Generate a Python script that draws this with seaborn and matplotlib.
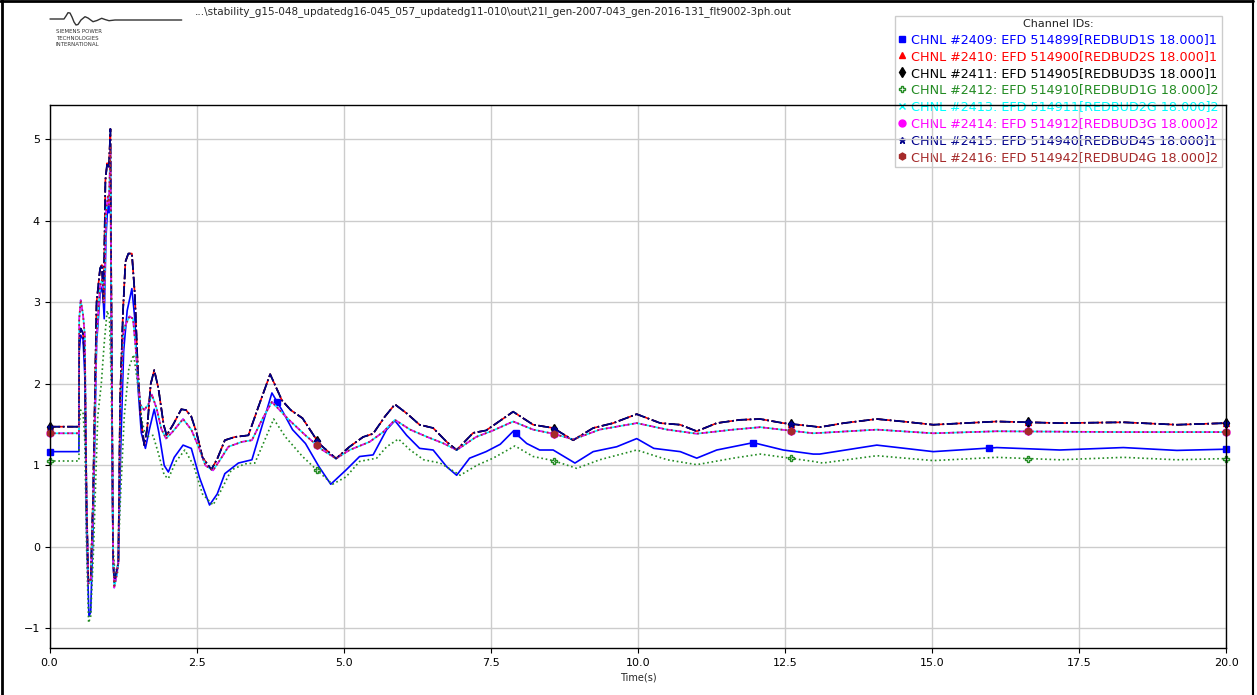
import numpy as np
import matplotlib
matplotlib.use('Agg')
import matplotlib.pyplot as plt
import seaborn as sns
from matplotlib.lines import Line2D

# %%
# curves (time in s, EFD in pu)
# the "S" units 2S/3S/4S sit on top of each other, same for 2G/3G/4G
top_t = [0, 0.5, 0.505, 0.53, 0.57, 0.6, 0.63, 0.66, 0.7, 0.74, 0.8, 0.86, 0.89, 0.92,
         0.95, 0.98, 1.01, 1.035, 1.05, 1.08, 1.1, 1.14, 1.17, 1.2, 1.25, 1.29, 1.34,
         1.4, 1.45, 1.5, 1.55, 1.61, 1.66, 1.72, 1.78, 1.85, 1.94, 1.99, 2.1, 2.24,
         2.32, 2.41, 2.5, 2.6, 2.75, 2.85, 2.98, 3.15, 3.38, 3.55, 3.75, 3.95, 4.1,
         4.3, 4.58, 4.87, 5.1, 5.33, 5.5, 5.7, 5.87, 6.07, 6.29, 6.52, 6.75, 6.92,
         7.2, 7.42, 7.66, 7.88, 8.22, 8.56, 8.9, 9.24, 9.58, 9.98, 10.38, 10.72, 11.0,
         11.34, 11.73, 12.08, 12.47, 12.98, 13.09, 13.5, 14.06, 14.5, 15.02, 16.1,
         17.17, 18.25, 19.16, 20.0]
top_v = [1.476, 1.476, 2.55, 2.68, 2.62, 2.3, 0.5, -0.43, -0.4, 0.6, 3.0, 3.42, 3.46, 3.0,
         4.5, 4.71, 4.65, 5.13, 3.2, -0.1, -0.43, -0.3, -0.2, 1.8, 2.9, 3.5, 3.6,
         3.6, 3.1, 2.2, 1.6, 1.25, 1.45, 2.0, 2.17, 1.95, 1.5, 1.37, 1.5, 1.69,
         1.68, 1.6, 1.4, 1.1, 0.95, 1.08, 1.31, 1.35, 1.37, 1.72, 2.12, 1.8, 1.68,
         1.58, 1.27, 1.085, 1.23, 1.35, 1.39, 1.6, 1.75, 1.64, 1.5, 1.46, 1.29, 1.19,
         1.4, 1.43, 1.55, 1.66, 1.5, 1.46, 1.31, 1.46, 1.52, 1.63, 1.52, 1.5, 1.42,
         1.52, 1.56, 1.57, 1.52, 1.48, 1.47, 1.52, 1.57, 1.54, 1.5, 1.54,
         1.52, 1.53, 1.5, 1.52]

mid_t = [0, 0.5, 0.505, 0.53, 0.57, 0.6, 0.63, 0.66, 0.7, 0.74, 0.8, 0.86, 0.9, 0.93,
         0.96, 0.99, 1.01, 1.035, 1.05, 1.08, 1.1, 1.14, 1.17, 1.2, 1.25, 1.29, 1.36,
         1.42, 1.47, 1.54, 1.61, 1.68, 1.74, 1.82, 1.9, 1.98, 2.1, 2.27, 2.41, 2.55,
         2.65, 2.78, 2.9, 3.04, 3.27, 3.44, 3.61, 3.78, 4.07, 4.35, 4.64, 4.87, 5.1,
         5.44, 5.67, 5.87, 6.13, 6.42, 6.7, 6.92, 7.25, 7.54, 7.88, 8.22, 8.56, 8.9,
         9.35, 9.98, 10.5, 11.0, 11.62, 12.08, 12.98, 14.06, 15.02, 16.1, 18.25, 20.0]
mid_v = [1.395, 1.395, 2.8, 3.03, 2.85, 2.6, 0.6, -0.45, -0.42, 0.5, 2.6, 3.2, 3.3, 3.0,
         4.1, 4.3, 4.2, 4.9, 3.0, -0.1, -0.5, -0.35, -0.2, 1.6, 2.6, 2.72, 2.83,
         2.8, 2.4, 1.75, 1.68, 1.75, 1.87, 1.7, 1.45, 1.33, 1.42, 1.57, 1.44, 1.2,
         1.0, 0.94, 1.07, 1.23, 1.29, 1.31, 1.56, 1.78, 1.56, 1.37, 1.19, 1.085, 1.19,
         1.29, 1.41, 1.56, 1.44, 1.35, 1.27, 1.19, 1.35, 1.43, 1.54, 1.44, 1.39, 1.32,
         1.44, 1.52, 1.44, 1.39, 1.44, 1.47, 1.395, 1.44, 1.395, 1.42, 1.41, 1.41]

blue_t = [0, 0.5, 0.505, 0.53, 0.57, 0.6, 0.63, 0.67, 0.7, 0.74, 0.8, 0.86, 0.9, 0.93,
          0.96, 0.99, 1.01, 1.035, 1.05, 1.08, 1.11, 1.14, 1.17, 1.21, 1.26, 1.32, 1.4,
          1.45, 1.5, 1.56, 1.63, 1.7, 1.78, 1.86, 1.95, 2.02, 2.12, 2.27, 2.41, 2.55,
          2.72, 2.85, 2.98, 3.21, 3.44, 3.61, 3.78, 3.95, 4.13, 4.35, 4.58, 4.78, 5.04,
          5.27, 5.5, 5.73, 5.87, 6.07, 6.29, 6.52, 6.75, 6.92, 7.14, 7.42, 7.66,
          7.88, 8.11, 8.33, 8.56, 8.93, 9.24, 9.64, 9.98, 10.27, 10.72, 11.0, 11.34,
          11.96, 12.47, 12.98, 13.09, 14.06, 15.02, 16.1, 17.17, 18.25, 19.16, 20.0]
blue_v = [1.17, 1.17, 2.4, 2.6, 2.55, 2.1, 0.2, -0.85, -0.8, 0.2, 2.5, 3.1, 3.2, 2.8,
          3.8, 4.2, 4.1, 4.6, 2.8, -0.2, -0.45, -0.35, -0.15, 1.2, 2.4, 2.9, 3.17,
          2.8, 2.0, 1.4, 1.21, 1.45, 1.69, 1.4, 1.0, 0.92, 1.1, 1.25, 1.21, 0.85,
          0.515, 0.65, 0.9, 1.03, 1.07, 1.48, 1.89, 1.68, 1.44, 1.27, 0.985, 0.77, 0.945,
          1.11, 1.13, 1.44, 1.55, 1.37, 1.21, 1.19, 0.985, 0.88, 1.09, 1.17, 1.26,
          1.42, 1.27, 1.19, 1.19, 1.03, 1.17, 1.23, 1.33, 1.21, 1.17, 1.09, 1.19,
          1.28, 1.19, 1.14, 1.14, 1.25, 1.17, 1.22, 1.19, 1.22, 1.185, 1.2]

green_t = [0, 0.5, 0.505, 0.53, 0.57, 0.6, 0.63, 0.665, 0.7, 0.75, 0.82, 0.88, 0.93, 0.98,
           1.02, 1.05, 1.08, 1.12, 1.16, 1.2, 1.27, 1.35, 1.43, 1.5, 1.57, 1.64, 1.76,
           1.85, 1.95, 2.02, 2.15, 2.3, 2.45, 2.6, 2.78, 2.92, 3.09, 3.32, 3.49, 3.61,
           3.81, 4.01, 4.3, 4.58, 4.81, 5.04, 5.27, 5.56, 5.73, 5.93, 6.13, 6.36, 6.64,
           6.98, 7.27, 7.54, 7.91, 8.22, 8.56, 8.96, 9.35, 9.98, 10.5, 11.0, 11.62,
           12.08, 12.98, 13.14, 14.06, 15.02, 16.1, 17.17, 18.25, 19.16, 20.0]
green_v = [1.055, 1.055, 1.5, 1.68, 1.65, 1.3, 0.0, -0.93, -0.85, 0.0, 1.6, 2.0, 2.5, 2.9,
           2.8, 2.0, 0.0, -0.4, -0.3, 0.5, 1.6, 2.2, 2.36, 2.0, 1.55, 1.35, 1.37,
           1.15, 0.88, 0.84, 1.05, 1.19, 1.0, 0.65, 0.515, 0.7, 0.945, 1.02, 1.03, 1.23,
           1.57, 1.35, 1.11, 0.92, 0.77, 0.86, 1.05, 1.09, 1.23, 1.325, 1.19, 1.07, 1.03,
           0.88, 1.005, 1.09, 1.24, 1.11, 1.06, 0.965, 1.07, 1.19, 1.07, 1.01, 1.09,
           1.14, 1.05, 1.03, 1.12, 1.06, 1.10, 1.07, 1.10, 1.07, 1.085]

channels = ['CHNL #2409: EFD 514899[REDBUD1S 18.000]1',
            'CHNL #2410: EFD 514900[REDBUD2S 18.000]1',
            'CHNL #2411: EFD 514905[REDBUD3S 18.000]1',
            'CHNL #2412: EFD 514910[REDBUD1G 18.000]2',
            'CHNL #2413: EFD 514911[REDBUD2G 18.000]2',
            'CHNL #2414: EFD 514912[REDBUD3G 18.000]2',
            'CHNL #2415: EFD 514940[REDBUD4S 18.000]1',
            'CHNL #2416: EFD 514942[REDBUD4G 18.000]2']
channel_curve = ['blue', 'top', 'top', 'green', 'mid', 'mid', 'top', 'mid']

marker_t_first = [0, 3.87, 7.92, 11.95, 15.97, 20.0]
marker_t_rest = [0, 4.55, 8.58, 12.6, 16.63, 20.0]

file_title = r"...\stability_g15-048_updatedg16-045_057_updatedg11-010\out\21l_gen-2007-043_gen-2016-131_flt9002-3ph.out"

curves = {'top': (top_t, top_v), 'mid': (mid_t, mid_v),
          'blue': (blue_t, blue_v), 'green': (green_t, green_v)}
colors = ['#0000ff', '#ff0000', '#000000', '#228b22', '#00ffff', '#ff00ff', '#00008b', '#a52a2a']
styles = ['-', '--', '-.', ':', '-', '--', '-.', ':']
marks = ['s', '^', 'd', 'P', 'x', 'o', '*', 'h']

# %%
sns.set_style('white')
plt.rcParams['font.family'] = ['DejaVu Sans']

W, H = 1257, 695
fig = plt.figure(figsize=(W / 100, H / 100), dpi=100)
fig.patch.set_facecolor('white')
ax = fig.add_axes([49.5 / W, 1 - 648.3 / H, (1226.3 - 49.5) / W, (648.3 - 105) / H])
ax.patch.set_alpha(0)

for i, name in enumerate(channels):
    t, v = curves[channel_curve[i]]
    sns.lineplot(x=t, y=v, ax=ax, color=colors[i], linestyle=styles[i], lw=1.2,
                 estimator=None, sort=False, legend=False)
    mt = marker_t_first if i == 0 else marker_t_rest
    mfc = 'none' if marks[i] == 'P' else colors[i]
    ax.plot(mt, np.interp(mt, t, v), ls='none', marker=marks[i], ms=5,
            color=colors[i], mfc=mfc, clip_on=False)

ax.set_xlim(0, 20)
ax.set_ylim(-1.243, 5.423)
ax.set_xticks(np.arange(0, 20.01, 2.5))
ax.grid(True, color='#cccccc', lw=1)
for s in ax.spines.values():
    s.set_color('black')
    s.set_linewidth(1)
ax.tick_params(bottom=True, left=True, direction='out', length=3.5, width=0.8,
               labelsize=8, color='black', labelcolor='black')
ax.set_xlabel('Time(s)', fontsize=7, labelpad=3)
ax.set_ylabel('')

# legend goes under the grid and the top spine, like the original
handles = [Line2D([], [], ls='none', marker=marks[i], color=colors[i], ms=5,
                  mfc='none' if marks[i] == 'P' else colors[i]) for i in range(8)]
leg = ax.legend(handles, channels, loc='upper right',
                bbox_to_anchor=(1222 / W, 1 - 16 / H), bbox_transform=fig.transFigure,
                title='Channel IDs:', fontsize=9.2, title_fontsize=8, labelspacing=0.3,
                handlelength=0.6, handletextpad=0.4, borderpad=0.25, borderaxespad=0,
                fancybox=False, edgecolor='#cccccc', framealpha=1, labelcolor=colors)
leg.set_zorder(0.3)
leg.get_title().set_color('#222222')

fig.text(195 / W, 1 - 12 / H, file_title, fontsize=7.5, va='center', ha='left')

# SIEMENS PTI logo
logo_x = [50, 64, 66, 68, 70, 72, 74, 76, 78, 81, 85, 88, 93, 97, 101.7, 105, 109, 115, 181.7]
logo_y = [19, 19, 16, 12.7, 13, 17, 22, 25, 24.5, 20, 16.7, 18, 21.7, 20.5, 18.3, 19.5, 20.7, 20, 20]
fig.add_artist(Line2D(np.array(logo_x) / W, 1 - np.array(logo_y) / H, color='#333333', lw=1))
for k, line in enumerate(['SIEMENS POWER', 'TECHNOLOGIES', 'INTERNATIONAL']):
    fig.text(56 / W, 1 - (31.7 + 6.3 * k) / H, line, fontsize=4, color='#333333', va='center')

# frame around the picture
fig.add_artist(Line2D([1.5 / W, 1.5 / W], [0, 1], color='black', lw=2))
fig.add_artist(Line2D([0, 1253 / W], [1 - 1 / H, 1 - 1 / H], color='black', lw=2))
fig.add_artist(Line2D([1253 / W, 1253 / W], [0, 1], color='black', lw=1.5))

fig.savefig('out.png', dpi=100)
